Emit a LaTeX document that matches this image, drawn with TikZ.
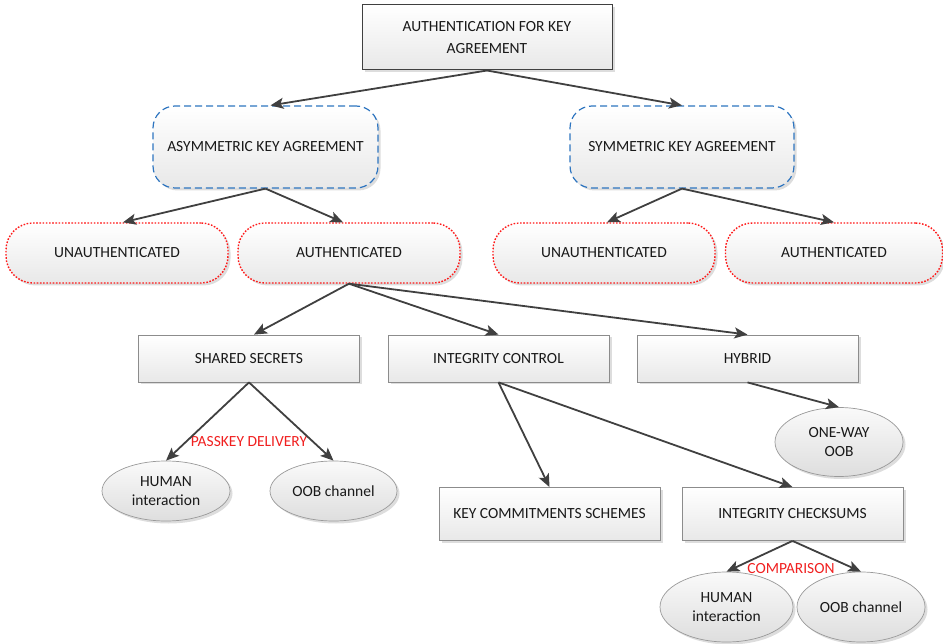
\documentclass[tikz,border=0pt]{standalone}
\usepackage{fontspec}
\setmainfont{Carlito}
\usetikzlibrary{arrows.meta,shapes.geometric,shadows}
\definecolor{arrowc}{HTML}{404040}
\definecolor{boxb}{HTML}{8C8C8C}
\definecolor{blued}{HTML}{2E75C0}
\definecolor{redd}{HTML}{FF1A1A}
\definecolor{lblred}{HTML}{F02020}
\begin{document}
\begin{tikzpicture}[x=1pt,y=-1pt,
  every node/.style={font=\fontsize{15.5}{19}\selectfont, text=black!90, inner sep=0pt, align=center},
  shad/.style={drop shadow={shadow xshift=2.5pt,shadow yshift=-2.5pt,opacity=0.22,fill=black!60}},
  grad/.style={top color=white,bottom color=black!9},
  rbox/.style={rectangle, draw=boxb, line width=0.8pt, grad, shad, minimum width=221pt, minimum height=47pt},
  topbox/.style={rectangle, draw=arrowc, line width=1pt, grad, shad, minimum width=250pt, minimum height=65pt, font=\fontsize{15.5}{22}\selectfont},
  bluebox/.style={rectangle, rounded corners=22pt, draw=blued, line width=1.2pt, dash pattern=on 7pt off 4pt, grad, shad, minimum width=225pt, minimum height=82pt},
  redbox/.style={rectangle, rounded corners=27pt, draw=redd, line width=1.4pt, dash pattern=on 1.6pt off 1.6pt, grad, shad, minimum width=222pt, minimum height=60pt},
  ell/.style={ellipse, draw=black!40, line width=0.7pt, top color=black!2, bottom color=black!13, shad},
  arr/.style={draw=arrowc, line width=1.8pt, -{Stealth[length=13pt,width=11pt,inset=3pt]}},
  lbl/.style={text=lblred}
]
\useasboundingbox (0,0) rectangle (943,644);

\node[topbox] (top) at (487,37.5) {AUTHENTICATION FOR KEY\\AGREEMENT};

\node[bluebox] (ak) at (265.5,147) {ASYMMETRIC KEY AGREEMENT};
\node[bluebox, minimum width=224pt] (sk) at (682,147) {SYMMETRIC KEY AGREEMENT};

\node[redbox] (ua1) at (117,253) {UNAUTHENTICATED};
\node[redbox] (a1) at (349,253) {AUTHENTICATED};
\node[redbox] (ua2) at (604,253) {UNAUTHENTICATED};
\node[redbox, minimum width=217pt] (a2) at (834,253) {AUTHENTICATED};

\node[rbox] (ss) at (249,358.5) {SHARED SECRETS};
\node[rbox] (ic) at (498.5,358.5) {INTEGRITY CONTROL};
\node[rbox] (hy) at (747.5,358.5) {HYBRID};

\node[rbox, minimum height=53pt] (kc) at (549.5,514) {KEY COMMITMENTS SCHEMES};
\node[rbox, minimum height=53pt] (cs) at (792.5,514) {INTEGRITY CHECKSUMS};

\node[ell, minimum width=128pt, minimum height=60pt] (h1) at (166,491) {HUMAN\\interaction};
\node[ell, minimum width=127pt, minimum height=60pt] (o1) at (333.5,491) {OOB channel};
\node[ell, minimum width=128pt, minimum height=69pt] (ow) at (839,442) {ONE-WAY\\OOB};
\node[ell, minimum width=133pt, minimum height=70pt] (h2) at (726.5,607) {HUMAN\\interaction};
\node[ell, minimum width=128pt, minimum height=70pt] (o2) at (861,607) {OOB channel};

\node[lbl] (pd) at (249,442) {PASSKEY DELIVERY};
\node[lbl] (cmp) at (791,569) {COMPARISON};

\draw[arr] (top.south) -- ([xshift=5pt]ak.north);
\draw[arr] (top.south) -- (sk.north);
\draw[arr] (ak.south) -- ([xshift=6pt]ua1.north);
\draw[arr] (ak.south) -- ([xshift=-6pt]a1.north);
\draw[arr] (sk.south) -- ([xshift=3pt]ua2.north);
\draw[arr] (sk.south) -- (a2.north);
\draw[arr] (a1.south) -- ([xshift=5pt]ss.north);
\draw[arr] (a1.south) -- (ic.north);
\draw[arr] (a1.south) -- (hy.north);
\draw[arr] (ss.south) -- (h1.north);
\draw[arr] (ss.south) -- (o1.north);
\draw[arr] (ic.south) -- (kc.north);
\draw[arr] (ic.south) -- (cs.north);
\draw[arr] (hy.south) -- (ow.north);
\draw[arr] (cs.south) -- (h2.north);
\draw[arr] (cs.south) -- (o2.north);
\end{tikzpicture}
\end{document}
